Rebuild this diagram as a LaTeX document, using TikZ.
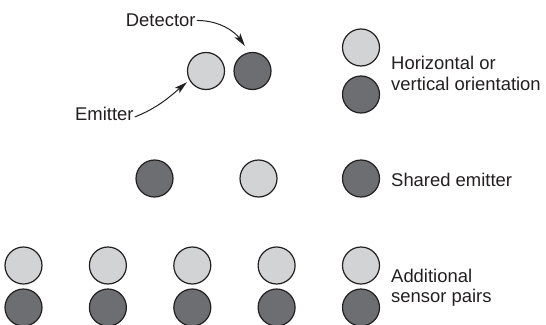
\documentclass[tikz,border=0pt]{standalone}
\usepackage{fontspec}
\setmainfont{Liberation Sans}
\usetikzlibrary{arrows.meta,calc}
\definecolor{lightdot}{HTML}{D1D3D4}
\definecolor{darkdot}{HTML}{6D6E71}
\definecolor{ink}{HTML}{231F20}
\tikzset{
  dot/.style={circle,draw=ink,line width=1.2bp,minimum size=37bp,inner sep=0pt},
  lightd/.style={dot,fill=lightdot},
  darkd/.style={dot,fill=darkdot},
  lbl/.style={text=ink,inner sep=1bp,align=left,anchor=base west,
    font=\fontsize{18.5}{20.5}\selectfont},
  pointer/.style={draw=ink,line width=1bp,-{Stealth[length=13bp,width=7bp,inset=3bp]}}
}
\begin{document}
\begin{tikzpicture}[x=1bp,y=1bp]
\useasboundingbox (0,0) rectangle (546,324);
% top pair
\node[lightd] (e1) at (206,253) {};
\node[darkd] (d1) at (252.5,253) {};
% legend column
\node[lightd] (le1) at (361,276.5) {};
\node[darkd] (ld1) at (361,229.5) {};
% shared emitter row
\node[darkd] (s1) at (154.5,145.5) {};
\node[lightd] (s2) at (258.5,145.5) {};
\node[darkd] (s3) at (361,145.5) {};
% additional sensor pairs
\foreach \i/\x in {1/23.5,2/107.9,3/192.3,4/276.6,5/361}{
  \node[lightd] (pa\i) at (\x,58.5) {};
  \node[darkd] (pb\i) at (\x,16.5) {};
}
% labels
\node[lbl] (det) at (124.7,297.3) {Detector};
\node[lbl] (emi) at (74,204) {Emitter};
\node[lbl] (hv) at (390,234) {Horizontal or\\vertical orientation};
\node[lbl] (sh) at (390,137.3) {Shared emitter};
\node[lbl] (ad) at (390,21.3) {Additional\\sensor pairs};
% pointers
\draw[pointer,shorten >=7.5bp] (det.east) to[out=0,in=125] (d1.100);
\draw[pointer,shorten >=3bp] ($(emi.base east)+(0,3)$) to[out=22,in=220] (e1.209);
\end{tikzpicture}
\end{document}
